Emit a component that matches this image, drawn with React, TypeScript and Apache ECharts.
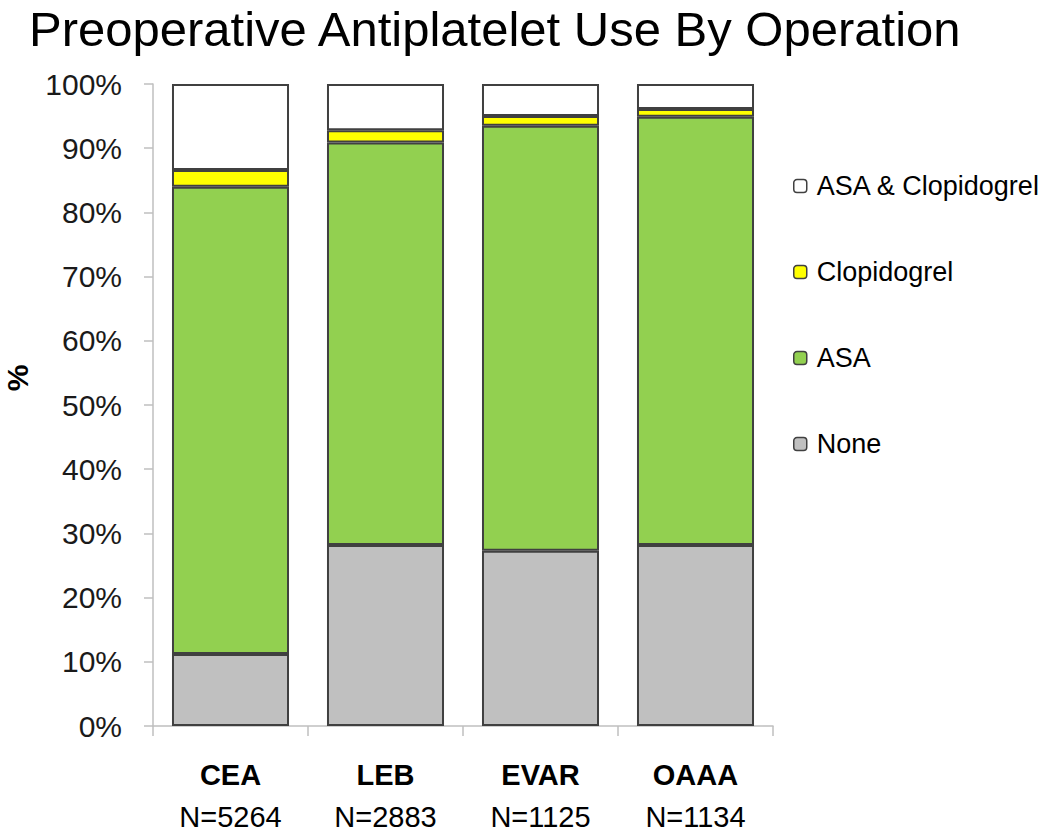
import React, { useEffect, useRef } from "react";
import * as echarts from "echarts";

const categories = ["CEA", "LEB", "EVAR", "OAAA"];
const sampleSizes = ["N=5264", "N=2883", "N=1125", "N=1134"];
const noneValues = [11.2, 28.2, 27.3, 28.2];
const asaValues = [72.8, 62.7, 66.2, 66.7];
const clopidogrelValues = [2.6, 1.9, 1.5, 1.2];
const bothValues = [13.4, 7.2, 5.0, 3.9];
const seriesNames = ["None", "ASA", "Clopidogrel", "ASA & Clopidogrel"];
const legendOrder = ["ASA & Clopidogrel", "Clopidogrel", "ASA", "None"];
const seriesColors = ["#c0c0c0", "#92d050", "#ffff00", "#ffffff"];

export default function App() {
  const ref = useRef<HTMLDivElement>(null);
  useEffect(() => {
    if (!ref.current) return;
    const chart = echarts.init(ref.current, undefined, { renderer: "svg" });
    const font = "'Liberation Sans', Arial, sans-serif";
    const values = [noneValues, asaValues, clopidogrelValues, bothValues];
    chart.setOption({
      animation: false,
      backgroundColor: "#ffffff",
      textStyle: { fontFamily: font },
      title: {
        text: "Preoperative Antiplatelet Use By Operation",
        left: 29,
        top: 3,
        padding: 0,
        textStyle: { fontSize: 49, lineHeight: 52, fontWeight: "normal", color: "#000", fontFamily: font },
      },
      legend: {
        orient: "vertical",
        left: 793,
        top: 172,
        padding: 0,
        itemWidth: 13,
        itemHeight: 13,
        itemGap: 58,
        data: legendOrder,
        textStyle: {
          fontSize: 27,
          lineHeight: 28,
          color: "#000",
          fontFamily: font,
          padding: [0, 0, 0, 5],
        },
        itemStyle: { borderColor: "#404040", borderWidth: 1.5 },
      },
      graphic: [
        {
          type: "text",
          x: 17,
          y: 378,
          rotation: Math.PI / 2,
          style: {
            text: "%",
            fontSize: 30,
            fontWeight: "bold",
            fill: "#000",
            fontFamily: font,
            align: "center",
            verticalAlign: "middle",
          },
        },
      ],
      grid: { left: 153, right: 277, top: 84, bottom: 106, containLabel: false },
      xAxis: {
        type: "category",
        data: categories,
        axisLine: { lineStyle: { color: "#bfbfbf", width: 1.5 } },
        axisTick: { show: true, length: 10, lineStyle: { color: "#bfbfbf", width: 1.5 } },
        axisLabel: {
          margin: 28,
          formatter: (v: string, i: number) => `{b|${v}}\n{n|${sampleSizes[i]}}`,
          rich: {
            b: { fontSize: 29, fontWeight: "bold", color: "#000", lineHeight: 42, fontFamily: font },
            n: { fontSize: 29, color: "#000", lineHeight: 42, fontFamily: font },
          },
        },
      },
      yAxis: {
        type: "value",
        min: 0,
        max: 100,
        interval: 10,
        axisLine: { show: true, lineStyle: { color: "#bfbfbf", width: 1.5 } },
        axisTick: { show: true, length: 9, lineStyle: { color: "#bfbfbf", width: 1.5 } },
        splitLine: { show: false },
        axisLabel: {
          formatter: "{value}%",
          fontSize: 30,
          color: "#1a1a1a",
          margin: 31,
          fontFamily: font,
        },
      },
      series: seriesNames.map((name, i) => ({
        name,
        type: "bar",
        stack: "total",
        barCategoryGap: "24.5%",
        data: values[i],
        itemStyle: { color: seriesColors[i], borderColor: "#404040", borderWidth: 2 },
      })),
    });
    return () => chart.dispose();
  }, []);
  return (
    <div
      ref={ref}
      style={{ position: "fixed", left: 0, top: 0, width: 1050, height: 832, background: "#fff" }}
    />
  );
}
